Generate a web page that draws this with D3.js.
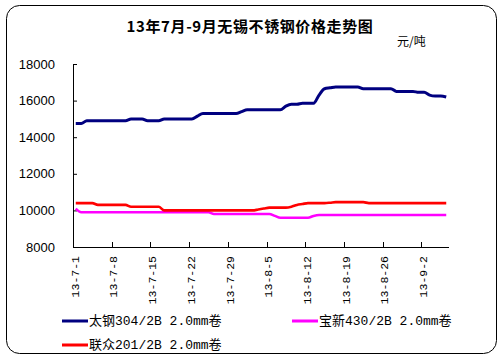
<!DOCTYPE html>
<html><head><meta charset="utf-8">
<script src="https://cdn.jsdelivr.net/npm/d3@7/dist/d3.min.js"></script>
<style>body{margin:0;background:#fff}</style>
</head><body><svg id="c" width="502" height="359"></svg>
<script>
const categories = [
"13-7-1","13-7-2","13-7-3","13-7-4","13-7-5","13-7-6","13-7-7","13-7-8","13-7-9","13-7-10",
"13-7-11","13-7-12","13-7-13","13-7-14","13-7-15","13-7-16","13-7-17","13-7-18","13-7-19","13-7-20",
"13-7-21","13-7-22","13-7-23","13-7-24","13-7-25","13-7-26","13-7-27","13-7-28","13-7-29","13-7-30",
"13-7-31","13-8-1","13-8-2","13-8-3","13-8-4","13-8-5","13-8-6","13-8-7","13-8-8","13-8-9",
"13-8-10","13-8-11","13-8-12","13-8-13","13-8-14","13-8-15","13-8-16","13-8-17","13-8-18","13-8-19",
"13-8-20","13-8-21","13-8-22","13-8-23","13-8-24","13-8-25","13-8-26","13-8-27","13-8-28","13-8-29",
"13-8-30","13-8-31","13-9-1","13-9-2","13-9-3","13-9-4","13-9-5","13-9-6"];

const taigang304 = [
14750,14750,14900,14900,14900,14900,14900,14900,14900,14900,
15000,15000,15000,14900,14900,14900,15000,15000,15000,15000,
15000,15000,15150,15300,15300,15300,15300,15300,15300,15300,
15400,15500,15500,15500,15500,15500,15500,15500,15700,15800,
15800,15850,15850,15850,16300,16650,16700,16750,16750,16750,
16750,16750,16650,16650,16650,16650,16650,16650,16500,16500,
16500,16500,16450,16450,16300,16250,16250,16200];

const baoxin430 = [
10100,9900,9900,9900,9900,9900,9900,9900,9900,9900,
9900,9900,9900,9900,9900,9900,9900,9900,9900,9900,
9900,9900,9900,9900,9900,9800,9800,9800,9800,9800,
9800,9800,9800,9800,9800,9800,9700,9600,9600,9600,
9600,9600,9600,9700,9750,9750,9750,9750,9750,9750,
9750,9750,9750,9750,9750,9750,9750,9750,9750,9750,
9750,9750,9750,9750,9750,9750,9750,9750];

const lianzhong201 = [
10400,10400,10400,10400,10300,10300,10300,10300,10300,10300,
10200,10200,10200,10200,10200,10200,10000,10000,10000,10000,
10000,10000,10000,10000,10000,10000,10000,10000,10000,10000,
10000,10000,10000,10050,10100,10150,10150,10150,10150,10200,
10300,10350,10400,10400,10400,10400,10420,10450,10450,10450,
10450,10450,10450,10400,10400,10400,10400,10400,10400,10400,
10400,10400,10400,10400,10400,10400,10400,10400];

const yTicks = [8000,10000,12000,14000,16000,18000];
const seriesNames = ["太钢304/2B 2.0mm卷","宝新430/2B 2.0mm卷","联众201/2B 2.0mm卷"];
const seriesColors = ["#000080","#FF00FF","#FF0000"];
const titleText = "13年7月-9月无锡不锈钢价格走势图";
const unitText = "元/吨";

const svg = d3.select("#c");
svg.append("rect").attr("x",6.5).attr("y",5.5).attr("width",490).attr("height",348)
  .attr("rx",13).attr("fill","#fff").attr("stroke","#000").attr("stroke-width",1);

svg.append("text").attr("x",250).attr("y",32).attr("text-anchor","middle")
  .attr("font-family","'Noto Sans CJK SC'").attr("font-weight","bold").attr("font-size",15)
  .attr("letter-spacing",0.6).text(titleText);
svg.append("text").attr("x",397).attr("y",46)
  .attr("font-family","'Noto Sans CJK SC'").attr("font-size",12).text(unitText);

const x = d3.scaleBand().domain(categories).range([73,449]);
const y = d3.scaleLinear().domain([8000,18000]).range([247,64]);

// Y axis
const yAxis = d3.axisLeft(y).tickValues(yTicks).tickSizeInner(-4).tickSizeOuter(0)
  .tickPadding(18).tickFormat(d3.format("d"));
const gy = svg.append("g").attr("transform","translate(73,0)").call(yAxis);
gy.selectAll("text").attr("font-family","'Liberation Sans', Arial").attr("font-size",13).attr("fill","#000");
gy.selectAll("line,path").attr("stroke","#000");

// X axis
const gx = svg.append("g");
gx.append("line").attr("x1",73).attr("x2",449).attr("y1",247.5).attr("y2",247.5).attr("stroke","#000");
const labelIdx = categories.map((c,i)=>i).filter(i=>i%7===0);
gx.selectAll("line.tk").data(labelIdx.filter(i=>i>0)).enter().append("line")
  .attr("x1",i=>Math.round(x(categories[i]))+0.5).attr("x2",i=>Math.round(x(categories[i]))+0.5)
  .attr("y1",247).attr("y2",242).attr("stroke","#000");
gx.selectAll("text").data(labelIdx).enter().append("text")
  .attr("transform",i=>`translate(${x(categories[i])+x.bandwidth()/2-0.5},256) rotate(-90)`)
  .attr("text-anchor","end").attr("dominant-baseline","central")
  .attr("font-family","'Liberation Mono', monospace").attr("font-size",11.5)
  .text(i=>categories[i]);

// Lines
const line = d3.line().x((d,i)=>x(categories[i])+x.bandwidth()/2).y(d=>y(d)).curve(d3.curveMonotoneX);
const series = [taigang304, baoxin430, lianzhong201];
svg.append("g").selectAll("path").data(series).enter().append("path")
  .attr("d",d=>line(d)).attr("fill","none")
  .attr("stroke",(d,i)=>seriesColors[i]).attr("stroke-width",(d,i)=>i===0?3:2.6)
  .attr("stroke-linejoin","round");

// Legend
const legendPos = [[62,321],[292,321],[62,345]];
const lg = svg.append("g").selectAll("g").data(seriesNames).enter().append("g")
  .attr("transform",(d,i)=>`translate(${legendPos[i][0]},${legendPos[i][1]})`);
lg.append("line").attr("x1",0).attr("x2",26).attr("y1",0).attr("y2",0)
  .attr("stroke",(d,i)=>seriesColors[i]).attr("stroke-width",3);
lg.append("text").attr("x",27).attr("y",0).attr("dominant-baseline","central")
  .attr("font-family","'Liberation Mono','Noto Sans CJK SC'").attr("font-size",13)
  .text(d=>d);
</script></body></html>
